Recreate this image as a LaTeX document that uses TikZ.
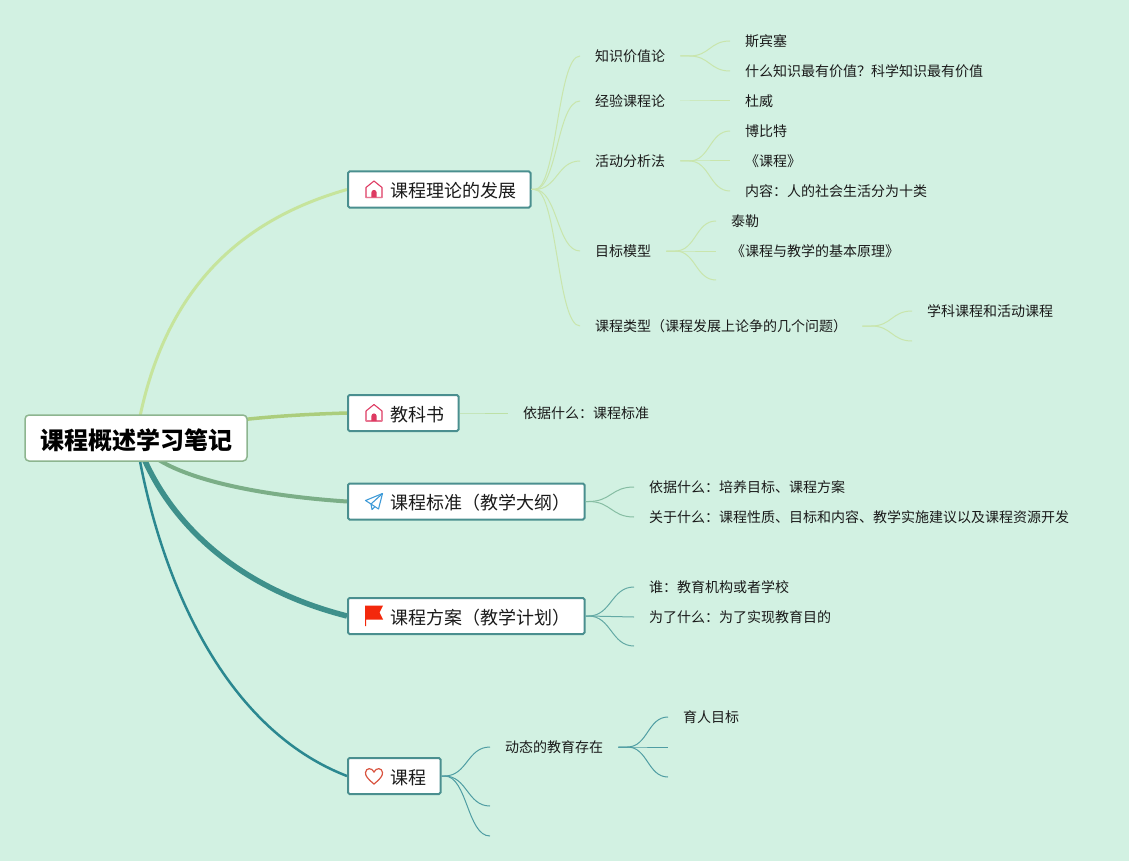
\documentclass[tikz,border=0pt]{standalone}
\usepackage{fontspec}
\usepackage{xcolor}
\usetikzlibrary{calc,backgrounds}
\setmainfont{Noto Sans CJK SC}
\definecolor{mintbg}{HTML}{D2F1E2}
\definecolor{inkc}{HTML}{1A1A1A}
\definecolor{rootedge}{HTML}{8DB58F}
\definecolor{topicedge}{HTML}{4A8F8F}
\definecolor{brA}{HTML}{C6E49C}
\definecolor{brB}{HTML}{ABCD7C}
\definecolor{brC}{HTML}{7BAE87}
\definecolor{brD}{HTML}{3E908B}
\definecolor{brE}{HTML}{2B8890}
\definecolor{twA}{HTML}{C9E5AC}
\definecolor{twB}{HTML}{BDE0A6}
\definecolor{twC}{HTML}{86BDA3}
\definecolor{twD}{HTML}{64AAA5}
\definecolor{twE}{HTML}{4F9DA3}
\definecolor{homered}{HTML}{DE3A62}
\definecolor{planeblue}{HTML}{3F9BD8}
\definecolor{flagred}{HTML}{F3280C}
\definecolor{heartred}{HTML}{D9533F}
\newcommand{\twig}[4]{\coordinate (tw) at ($(#3)+(#2,0)$);
  \draw[#1] (#3) -- (tw) .. controls ($(tw)!0.5!(#4 |- tw)$) and ($(#4)!0.5!(tw |- #4)$) .. (#4);}
\tikzset{
  rootbox/.style={draw=rootedge,fill=white,line width=1.5pt,rounded corners=4pt,inner xsep=15pt,inner ysep=0pt,minimum height=46pt,text height=25pt,text depth=3pt,text=black,font=\fontsize{24}{28}\selectfont\bfseries},
  topicbox/.style={draw=topicedge,fill=white,line width=2pt,rounded corners=1.5pt,inner xsep=14.5pt,inner ysep=0pt,minimum height=36pt,text height=18.5pt,text depth=2pt,anchor=west,text=inkc,font=\fontsize{18}{22}\selectfont,execute at begin node=\hspace*{27.5pt}},
  leaf/.style={anchor=west,inner xsep=15pt,inner ysep=0pt,text height=13pt,text depth=2pt,text=inkc,font=\fontsize{14}{16}\selectfont},
  homeicon/.pic={\draw[homered,line width=1.1pt,line join=round] (-8,-2)--(0,-8.5)--(8,-2)--(8,8)--(-8,8)--cycle;
    \draw[homered!70,line width=1.6pt] (-8,8)--(8,8);
    \fill[homered] (-2.6,8)--(-2.6,3) arc[start angle=180,end angle=360,radius=2.6]--(2.6,8)--cycle;},
  planeicon/.pic={\draw[planeblue,line width=1.1pt,line join=round] (8.5,-8)--(-8.5,-1)--(-3,2.5)--(4.5,7.5)--cycle;
    \draw[planeblue,line width=1.1pt,line join=round] (8.5,-8)--(-3,2.5)--(-2,8)--(1,5.2);},
  flagicon/.pic={\fill[flagred] (-9,-10.5)--(9,-10.5)--(5.5,-3.5)--(9,3.5)--(-8,3.5)--(-8,10)--(-9,10)--cycle;},
  hearticon/.pic={\draw[heartred,line width=1.2pt] (0,8) .. controls (-6,3) and (-8.8,0) .. (-8.5,-3.5) .. controls (-8,-8.5) and (-2,-8.5) .. (0,-4) .. controls (2,-8.5) and (8,-8.5) .. (8.5,-3.5) .. controls (8.8,0) and (6,3) .. (0,8)--cycle;}
}
\begin{document}
\begin{tikzpicture}[x=1pt,y=-1pt]
\useasboundingbox (0,0) rectangle (1129,861);
\node[rootbox] (root) at (136,438) {课程概述学习笔记};
\node[topicbox] (theory) at (347,189.5) {课程理论的发展};
\node[topicbox] (textbook) at (347,413) {教科书};
\node[topicbox] (standard) at (347,501.5) {课程标准（教学大纲）};
\node[topicbox] (plan) at (347,616) {课程方案（教学计划）};
\node[topicbox] (course) at (347,776) {课程};
\pic at ($(theory.west)+(27,0)$) {homeicon}; \pic at ($(textbook.west)+(27,0)$) {homeicon};
\pic at ($(standard.west)+(27,0)$) {planeicon}; \pic at ($(plan.west)+(27,0)$) {flagicon};
\pic at ($(course.west)+(27,0)$) {hearticon};

\node[leaf] (value) at (580,56) {知识价值论}; \node[leaf] (spencer) at (730,41) {斯宾塞};
\node[leaf] (worth) at (730,71) {什么知识最有价值？科学知识最有价值};
\node[leaf] (exper) at (580,101) {经验课程论}; \node[leaf] (dewey) at (730,101) {杜威};
\node[leaf] (activity) at (580,161) {活动分析法}; \node[leaf] (bobbitt) at (730,131) {博比特};
\node[leaf] (kecheng) at (730,161) {《课程》}; \node[leaf] (tenkinds) at (730,191) {内容：人的社会生活分为十类};
\node[leaf] (goal) at (580,251) {目标模型}; \node[leaf] (tyler) at (716,221) {泰勒};
\node[leaf] (basics) at (716,251) {《课程与教学的基本原理》}; \coordinate (goalend) at (716,280);
\node[leaf] (types) at (580,326) {课程类型（课程发展上论争的几个问题）};
\node[leaf] (subject) at (912,311) {学科课程和活动课程}; \coordinate (typesend) at (912,341);
\node[leaf] (basis) at (508,413) {依据什么：课程标准};
\node[leaf] (stdbasis) at (634,487) {依据什么：培养目标、课程方案};
\node[leaf] (stdabout) at (634,517) {关于什么：课程性质、目标和内容、教学实施建议以及课程资源开发};
\node[leaf] (who) at (634,587) {谁：教育机构或者学校}; \node[leaf] (why) at (634,617) {为了什么：为了实现教育目的};
\coordinate (planend) at (634,646);
\node[leaf] (dynamic) at (490,747) {动态的教育存在}; \coordinate (courseB) at (490,806); \coordinate (courseC) at (490,836);
\node[leaf] (aim) at (668,717) {育人目标}; \coordinate (dynB) at (668,747); \coordinate (dynC) at (668,777);

\begin{scope}[on background layer]
\fill[mintbg] (0,0) rectangle (1129,861);
\draw[brA,line width=3pt] (root.center) .. controls (160,290) and (240,220) .. (theory.west);
\draw[brB,line width=3.5pt] (root.center) .. controls (210,420) and (280,415) .. (textbook.west);
\draw[brC,line width=4pt] (root.center) .. controls (155,475) and (250,495) .. (standard.west);
\draw[brD,line width=5.5pt] (root.center) .. controls (160,510) and (225,585) .. (plan.west);
\draw[brE,line width=2.5pt] (root.center) .. controls (155,560) and (215,725) .. (course.west);
\end{scope}

\foreach \kid in {value,exper,activity,goal,types} {\twig{twA,line width=1pt}{3}{theory.east}{\kid.west}}
\foreach \kid in {spencer,worth} {\twig{twA,line width=1pt}{9}{value.east}{\kid.west}}
\twig{twA,line width=1pt}{9}{exper.east}{dewey.west}
\foreach \kid in {bobbitt,kecheng,tenkinds} {\twig{twA,line width=1pt}{9}{activity.east}{\kid.west}}
\foreach \kid in {tyler.west,basics.west,goalend} {\twig{twA,line width=1pt}{9}{goal.east}{\kid}}
\foreach \kid in {subject.west,typesend} {\twig{twA,line width=1pt}{9}{types.east}{\kid}}
\twig{twB,line width=1pt}{3}{textbook.east}{basis.west}
\foreach \kid in {stdbasis,stdabout} {\twig{twC,line width=1pt}{3}{standard.east}{\kid.west}}
\foreach \kid in {who.west,why.west,planend} {\twig{twD,line width=1pt}{3}{plan.east}{\kid}}
\foreach \kid in {dynamic.west,courseB,courseC} {\twig{twE,line width=1pt}{3}{course.east}{\kid}}
\foreach \kid in {aim.west,dynB,dynC} {\twig{twE,line width=1pt}{9}{dynamic.east}{\kid}}
\end{tikzpicture}
\end{document}
